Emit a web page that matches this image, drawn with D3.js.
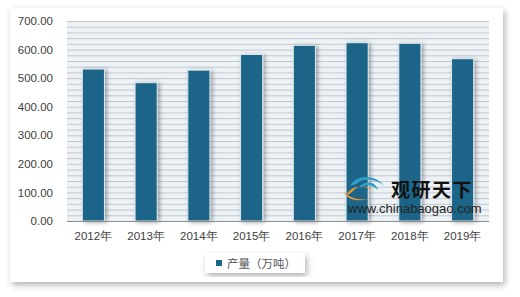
<!DOCTYPE html>
<html>
<head>
<meta charset="utf-8">
<script src="https://cdn.jsdelivr.net/npm/d3@7"></script>
<style>
body { margin:0; background:#fff; }
svg { display:block; font-family: "Noto Sans CJK SC", "Liberation Sans", sans-serif; }
</style>
</head>
<body>
<script>
var years = ["2012年","2013年","2014年","2015年","2016年","2017年","2018年","2019年"];
var output = [532, 484, 528, 583, 615, 624, 622, 568];
var yTicks = [0, 100, 200, 300, 400, 500, 600, 700];
var seriesName = "产量（万吨）";

var W = 520, H = 297;
var svg = d3.select("body").append("svg").attr("width", W).attr("height", H);

var defs = svg.append("defs");
var sh = defs.append("filter").attr("id","shadow").attr("x","-10%").attr("y","-10%").attr("width","130%").attr("height","130%");
sh.append("feDropShadow").attr("dx",2).attr("dy",3).attr("stdDeviation",3).attr("flood-color","#000").attr("flood-opacity",0.3);
var bsh = defs.append("filter").attr("id","barshadow").attr("x","-50%").attr("y","-10%").attr("width","200%").attr("height","130%");
bsh.append("feDropShadow").attr("dx",2).attr("dy",1).attr("stdDeviation",2).attr("flood-color","#000").attr("flood-opacity",0.35);

// panel
svg.append("rect").attr("x",10).attr("y",8).attr("width",493).attr("height",274)
   .attr("fill","#fff").attr("filter","url(#shadow)");

var plotL = 67, plotR = 489, plotT = 21, plotB = 221;

var x = d3.scaleBand().domain(years).range([plotL, plotR]).paddingInner(0.58).paddingOuter(0.29);
var y = d3.scaleLinear().domain([0, 700]).range([plotB, plotT]);

// plot background + minor grid
svg.append("rect").attr("x",plotL).attr("y",plotT).attr("width",plotR-plotL).attr("height",plotB-plotT)
   .attr("fill","#edf2f6");
svg.append("g").selectAll("line").data(d3.range(20, 701, 20)).enter().append("line")
   .attr("x1",plotL).attr("x2",plotR)
   .attr("y1",function(d){ return y(d)+0.5; }).attr("y2",function(d){ return y(d)+0.5; })
   .attr("stroke","#c3c8cc").attr("stroke-width",1);

// bars
svg.append("g").selectAll("rect").data(output).enter().append("rect")
   .attr("x",function(d,i){ return x(years[i]); })
   .attr("y",function(d){ return y(d); })
   .attr("width",x.bandwidth())
   .attr("height",function(d){ return plotB - y(d); })
   .attr("fill","#1a6589")
   .attr("stroke","#dfe9ef").attr("stroke-width",1)
   .attr("filter","url(#barshadow)");

// baseline
svg.append("line").attr("x1",plotL).attr("x2",plotR).attr("y1",plotB+0.5).attr("y2",plotB+0.5)
   .attr("stroke","#8c8c8c").attr("stroke-width",1.2);

// y axis
var yAxis = d3.axisLeft(y).tickValues(yTicks).tickFormat(d3.format(".2f")).tickSize(0).tickPadding(14);
var ga = svg.append("g").attr("transform","translate(" + plotL + ",0)").call(yAxis);
ga.select(".domain").remove();
ga.selectAll("text").attr("fill","#404040").style("font-size","11.5px").style("font-family","'Liberation Sans', sans-serif");

// x axis
var xAxis = d3.axisBottom(x).tickSize(0).tickPadding(11);
var gx = svg.append("g").attr("transform","translate(0," + plotB + ")").call(xAxis);
gx.select(".domain").remove();
gx.selectAll("text").attr("fill","#404040").style("font-size","11.5px");

// legend
var lg = svg.append("g");
lg.append("rect").attr("x",205).attr("y",253).attr("width",100).attr("height",20)
  .attr("fill","#fff").attr("filter","url(#shadow)");
lg.append("rect").attr("x",216).attr("y",260).attr("width",6).attr("height",6).attr("fill","#1a6589");
lg.append("text").attr("x",227).attr("y",267.5).text(seriesName)
  .attr("fill","#555").style("font-size","11.5px");

// watermark
var wm = svg.append("g");
wm.append("path").attr("d","M346,196 C350,186 362,184 372,190 C366,184 356,186 352,192 Z M344,192 C346,200 362,204 376,196 C366,202 352,200 344,192 Z")
  .attr("fill","#f29a2e");
wm.append("path").attr("d","M350,186 C356,174 376,174 384,186 C376,178 362,178 356,184 Z M360,186 C366,180 376,182 378,190 C372,184 366,184 360,188 Z")
  .attr("fill","#2f9fc9");
wm.append("text").attr("x",391).attr("y",197).text("观研天下")
  .attr("fill","#111").style("font-size","19px").style("font-weight","bold").style("letter-spacing","1.5px");
wm.append("text").attr("x",348).attr("y",213).text("www.chinabaogao.com")
  .attr("fill","#222").style("font-size","13px").style("font-family","'Liberation Sans', sans-serif");
</script>
</body>
</html>
